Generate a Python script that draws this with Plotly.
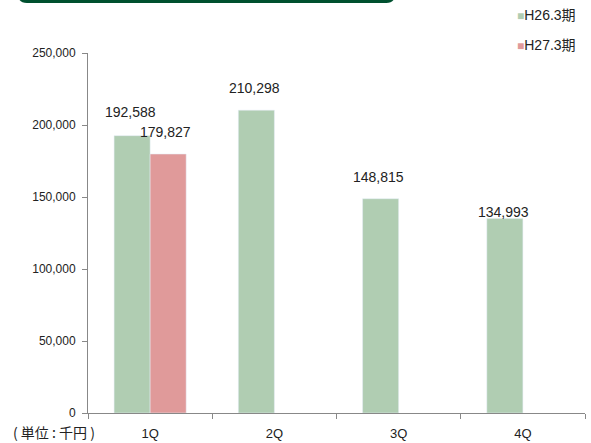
import plotly.graph_objects as go

categories = ["1Q", "2Q", "3Q", "4Q"]
h26 = [192588, 210298, 148815, 134993]
h27 = [179827, None, None, None]
series_names = ["H26.3期", "H27.3期"]
y_ticks = [0, 50000, 100000, 150000, 200000, 250000]
y_tick_text = ["0", "50,000", "100,000", "150,000", "200,000", "250,000"]

FONT = "Liberation Sans, Arial, Noto Sans CJK JP, sans-serif"
GREEN = "#b0cdb2"
RED = "#e09a9a"
colors = [GREEN, RED]

fig = go.Figure()
fig.add_trace(go.Bar(name=series_names[0], x=categories, y=h26, marker_color=GREEN))
fig.add_trace(go.Bar(name=series_names[1], x=categories, y=h27, marker_color=RED))

# value labels (Excel-style, placed above bars)
label_specs = [
    (categories[0], h26[0], -0.16, 24),
    (categories[0], h27[0], 0.12, 22),
    (categories[1], h26[1], -0.16, 22),
    (categories[2], h26[2], -0.16, 22),
    (categories[3], h26[3], -0.16, 7),
]
for cat, val, dx, ys in label_specs:
    idx = categories.index(cat)
    fig.add_annotation(x=idx + dx, y=val, xref="x", yref="y", text=f"{val:,}",
                       showarrow=False, yshift=ys, font=dict(size=14, color="#222", family=FONT))

# unit note
fig.add_annotation(x=-0.155, y=-0.053, xref="paper", yref="paper", text="( 単位 : 千円 )",
                   showarrow=False, xanchor="left", yanchor="middle",
                   font=dict(size=14, color="#222", family="Noto Sans CJK JP"))

# legend (Excel-style small squares next to text)
for i, (name, col) in enumerate(zip(series_names, colors)):
    fig.add_annotation(x=0.986, y=1.106 - i * 0.083, xref="paper", yref="paper",
                       text=f"<span style='color:{col}; font-size:12px'>■</span>{name}",
                       showarrow=False, xanchor="right", yanchor="middle",
                       font=dict(size=14, color="#222", family=FONT))

# dark green rounded header bar (cut off at top)
x0, x1 = -0.141, 0.618
y0, y1 = 1.139, 1.2
rx, ry = 0.018, 0.025
path = (f"M {x0},{y1} L {x0},{y0+ry} Q {x0},{y0} {x0+rx},{y0} "
        f"L {x1-rx},{y0} Q {x1},{y0} {x1},{y0+ry} L {x1},{y1} Z")
fig.add_shape(type="path", path=path, xref="paper", yref="paper",
              fillcolor="#00502f", line=dict(width=0))

fig.update_layout(
    width=591, height=443,
    margin=dict(l=88, r=6, t=53, b=30, autoexpand=False),
    paper_bgcolor="white", plot_bgcolor="white",
    barmode="group", bargap=0.42, bargroupgap=0,
    showlegend=False,
    font=dict(family=FONT),
)
fig.update_xaxes(type="category", showline=True, linecolor="#888", linewidth=1,
                 ticks="outside", tickson="boundaries", ticklen=5, tickcolor="#888",
                 tickfont=dict(size=13, color="#222"), showgrid=False,
                 range=[-0.5, 3.5], automargin=False, ticklabelstandoff=8)
fig.update_yaxes(range=[0, 250000], tickvals=y_ticks, ticktext=y_tick_text,
                 showline=True, linecolor="#888", linewidth=1, ticks="outside",
                 ticklen=5, tickcolor="#888", showgrid=False, zeroline=False,
                 tickfont=dict(size=12, color="#222"), automargin=False,
                 ticklabelstandoff=4)

fig.write_html("out.html", config={"displayModeBar": False},
               post_script="document.body.style.margin='0';")
